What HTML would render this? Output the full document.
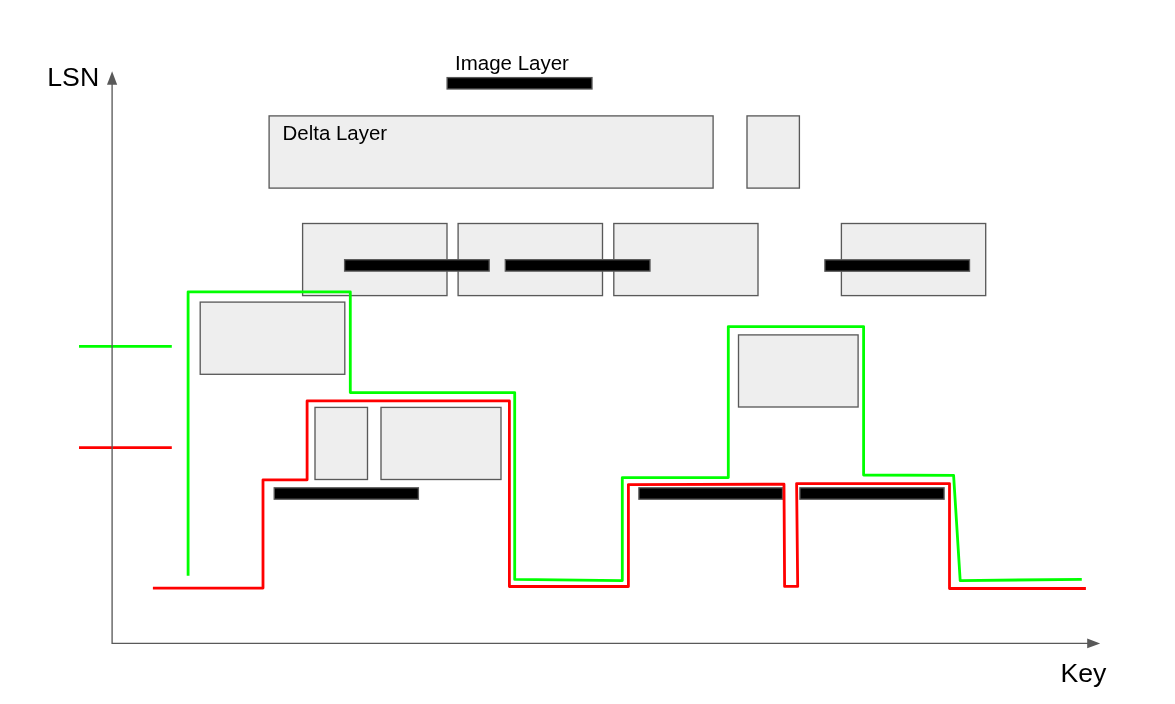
<!DOCTYPE html>
<html><head><meta charset="utf-8">
<style>
html,body{margin:0;padding:0;background:#fff;width:1175px;height:704px;overflow:hidden}
svg{display:block;will-change:transform}
text{font-family:"Liberation Sans",sans-serif;fill:#000}
</style></head><body>
<svg width="1175" height="704" viewBox="0 0 1175 704">
<rect x="0" y="0" width="1175" height="704" fill="#fff"/>
<line x1="79" y1="346.4" x2="171.8" y2="346.4" stroke="#00ff00" stroke-width="2.8"/>
<line x1="79" y1="447.6" x2="171.8" y2="447.6" stroke="#ff0000" stroke-width="2.8"/>
<path d="M112.1 84 L112.1 643.3 L1088 643.3" stroke="#595959" stroke-width="1.33" fill="none"/>
<path d="M112.1 71.3 L107 84.7 L117.2 84.7 Z" fill="#595959"/>
<path d="M1100.2 643.4 L1087.2 638.4 L1087.2 648.3 Z" fill="#595959"/>
<text x="47.3" y="86" font-size="26.67">LSN</text>
<text x="1060.4" y="682" font-size="26.67">Key</text>
<g fill="#eeeeee" stroke="#595959" stroke-width="1.33">
<rect x="269.1" y="115.9" width="444" height="72.2"/>
<rect x="747" y="115.9" width="52.4" height="72.2"/>
<rect x="302.6" y="223.5" width="144.4" height="72.1"/>
<rect x="458.1" y="223.5" width="144.4" height="72.1"/>
<rect x="613.8" y="223.5" width="144.2" height="72.1"/>
<rect x="841.4" y="223.5" width="144.3" height="72.1"/>
<rect x="200.2" y="302.1" width="144.6" height="72.2"/>
<rect x="315" y="407.4" width="52.5" height="72.1"/>
<rect x="381" y="407.4" width="120" height="72.1"/>
<rect x="738.5" y="334.9" width="119.6" height="72.1"/>
</g>
<text x="282.6" y="140" font-size="20.45">Delta Layer</text>
<text x="455" y="70" font-size="20.5">Image Layer</text>
<g fill="#000" stroke="#595959" stroke-width="1.33">
<rect x="447.1" y="77.6" width="144.9" height="11.4"/>
<rect x="344.6" y="259.7" width="144.6" height="11.4"/>
<rect x="505.3" y="259.7" width="144.7" height="11.4"/>
<rect x="824.9" y="259.8" width="144.6" height="11.4"/>
<rect x="274.2" y="487.8" width="144.2" height="11.4"/>
<rect x="638.9" y="487.8" width="143.6" height="11.4"/>
<rect x="799.9" y="487.8" width="144.2" height="11.4"/>
</g>
<path d="M188.1 575.8 L188.1 291.8 L350.3 291.8 L350.3 392.6 L514.7 392.6 L514.7 579.4 L622.3 580.6 L622.3 477.6 L728.3 477.6 L728.3 326.6 L863.6 326.6 L863.6 475.0 L953.6 475.3 L960.2 580.6 L1081.8 579.3" fill="none" stroke="#00ff00" stroke-width="2.8" stroke-linejoin="round"/>
<path d="M152.9 588.1 L263 588.1 L263 479.8 L307.1 479.8 L307.1 400.9 L509.4 400.9 L509.4 586.5 L628.4 586.5 L628.4 484.6 L784 484.2 L784.6 586.4 L797.7 586.4 L796.6 483.6 L949.5 483.6 L949.5 588.5 L1085.9 588.5" fill="none" stroke="#ff0000" stroke-width="2.8" stroke-linejoin="round"/>
</svg>
</body></html>
